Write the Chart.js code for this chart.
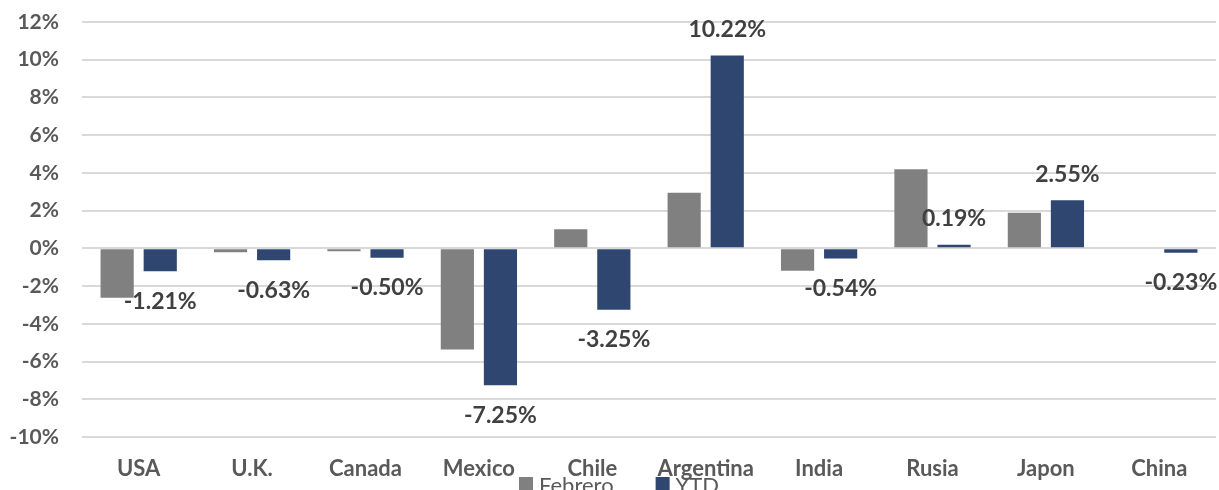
<!DOCTYPE html>
<html>
<head>
<meta charset="utf-8">
<script src="https://cdn.jsdelivr.net/npm/chart.js@4/dist/chart.umd.min.js"></script>
<style>
  html, body { margin: 0; padding: 0; background: #fff; overflow: hidden; }
  #wrap { width: 1219px; height: 490px; position: relative; }
</style>
</head>
<body>
<div id="wrap"><canvas id="myChart"></canvas></div>
<script>
const countries = ['USA', 'U.K.', 'Canada', 'Mexico', 'Chile', 'Argentina', 'India', 'Rusia', 'Japon', 'China'];
const febrero = [-2.62, -0.21, -0.15, -5.36, 1.01, 2.95, -1.19, 4.19, 1.89, 0];
const ytd = [-1.21, -0.63, -0.50, -7.25, -3.25, 10.22, -0.54, 0.19, 2.55, -0.23];
const yTicks = [-10, -8, -6, -4, -2, 0, 2, 4, 6, 8, 10, 12];

const FONT = 'Lato, "Open Sans", sans-serif';

// value labels on the YTD bars, outside the bar end
const ytdLabels = {
    id: 'ytdLabels',
    afterDatasetsDraw(chart) {
        const ctx = chart.ctx;
        const meta = chart.getDatasetMeta(1);
        ctx.save();
        ctx.font = 'bold 23px ' + FONT;
        ctx.fillStyle = '#404040';
        ctx.textAlign = 'center';
        ctx.textBaseline = 'middle';
        meta.data.forEach((bar, i) => {
            const v = ytd[i];
            const y = v < 0 ? bar.y + 30 : bar.y - 26;
            ctx.fillText(v.toFixed(2) + '%', bar.x, y);
        });
        ctx.restore();
    }
};

// legend row at the bottom edge
const bottomLegend = {
    id: 'bottomLegend',
    afterDraw(chart) {
        const ctx = chart.ctx;
        ctx.save();
        ctx.font = '22px ' + FONT;
        ctx.textBaseline = 'alphabetic';
        let x = 519;
        chart.data.datasets.forEach(ds => {
            ctx.fillStyle = ds.backgroundColor;
            ctx.fillRect(x, 477, 14, 14);
            ctx.fillStyle = '#595959';
            ctx.fillText(ds.label, x + 20, 493);
            x += 20 + ctx.measureText(ds.label).width + 42;
        });
        ctx.restore();
    }
};

document.addEventListener("DOMContentLoaded", () => {
    const ctx = document.getElementById('myChart').getContext('2d');

    new Chart(ctx, {
        type: 'bar',
        data: {
            labels: countries,
            datasets: [
                {
                    label: 'Febrero',
                    data: febrero,
                    backgroundColor: '#808080',
                    categoryPercentage: 0.76,
                    barPercentage: 0.77
                },
                {
                    label: 'YTD',
                    data: ytd,
                    backgroundColor: '#2F4770',
                    categoryPercentage: 0.76,
                    barPercentage: 0.77
                }
            ]
        },
        options: {
            responsive: true,
            maintainAspectRatio: false,
            animation: false,
            layout: { padding: { left: 0, right: 3, top: 22, bottom: 0 } },
            plugins: {
                legend: { display: false },
                tooltip: { enabled: false }
            },
            scales: {
                x: {
                    grid: { display: false },
                    border: { display: false },
                    afterFit: axis => { axis.height = 53; },
                    ticks: {
                        color: '#595959',
                        font: { family: FONT, size: 22, weight: 'bold' },
                        padding: 11
                    }
                },
                y: {
                    min: -10,
                    max: 12,
                    afterBuildTicks: axis => { axis.ticks = yTicks.map(v => ({ value: v })); },
                    afterFit: axis => {
                        axis.width = 82;
                        axis.paddingTop = 0;
                        axis.paddingBottom = 0;
                    },
                    grid: { color: '#d9d9d9', lineWidth: 2, drawTicks: false },
                    border: { display: false },
                    ticks: {
                        color: '#595959',
                        font: { family: FONT, size: 21, weight: 'bold' },
                        padding: 23,
                        callback: v => v + '%'
                    }
                }
            }
        },
        plugins: [ytdLabels, bottomLegend]
    });
});
</script>
</body>
</html>
